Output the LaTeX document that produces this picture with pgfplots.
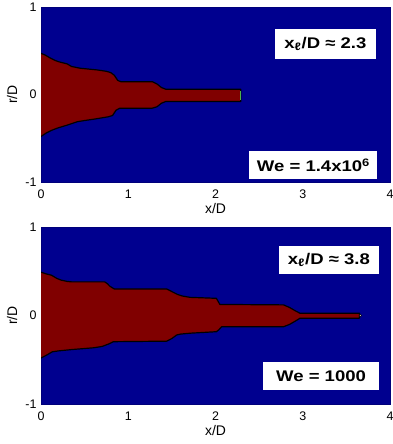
\documentclass[border=0pt]{standalone}
\usepackage{pgfplots}
\pgfplotsset{compat=1.18}
\usepackage{fontspec}
\setmainfont{Liberation Sans}
\definecolor{jetblue}{rgb}{0,0,0.5625}
\definecolor{jetred}{rgb}{0.5,0,0}
\pgfplotsset{
  jetaxis/.style={
    scale only axis, anchor=south west, width=349bp,
    xmin=0, xmax=4, ymin=-1, ymax=1,
    xtick={0,1,2,3,4}, xticklabels={0,1,2,3,4},
    ytick={-1,0,1}, yticklabels={-1,0,1},
    major tick length=0pt,
    axis background/.style={fill=jetblue},
    axis line style={draw=jetblue!85!black, line width=0.4pt},
    ticklabel style={font=\fontsize{12.5}{14}\selectfont},
    xticklabel style={anchor=center, yshift=-12bp},
    yticklabel style={anchor=east, xshift=-1bp},
    label style={font=\fontsize{14}{16}\selectfont},
    xlabel={x/D}, ylabel={r/D},
    xlabel style={at={(axis description cs:0.5,0)}, anchor=center, yshift=-27bp},
    ylabel style={at={(axis description cs:-0.083,0.5)}, anchor=center},
  },
  jet/.style={fill=jetred, draw=black, line width=1.2pt, line join=round},
}
\tikzset{
  jbox/.style={fill=white, draw=none, inner sep=0pt, font=\bfseries\fontsize{15.5}{18}\selectfont},
}
\newcommand{\wide}[1]{\scalebox{1.2}[1]{#1}}
\begin{document}
\begin{tikzpicture}
\useasboundingbox (0,0) rectangle (393bp,444bp);
% ---------- top panel ----------
\begin{axis}[jetaxis, at={(41bp,262bp)}, height=175bp]
\addplot[jet] coordinates {
(-0.05,0.47) (0,0.47) (0.05,0.45) (0.1,0.42) (0.16,0.39) (0.2,0.375) (0.3,0.35)
(0.35,0.32) (0.45,0.30) (0.55,0.29) (0.65,0.28) (0.75,0.265) (0.8,0.25) (0.84,0.22)
(0.88,0.16) (0.92,0.145) (1.28,0.145) (1.33,0.12) (1.38,0.08) (1.43,0.06) (2.29,0.06)
(2.29,-0.08) (1.43,-0.08) (1.38,-0.1) (1.33,-0.14) (1.27,-0.158) (0.9,-0.158)
(0.86,-0.18) (0.82,-0.24) (0.77,-0.255) (0.62,-0.28) (0.55,-0.29) (0.42,-0.31)
(0.3,-0.35) (0.2,-0.38) (0.12,-0.41) (0.06,-0.44) (0,-0.48) (-0.05,-0.48)
} -- cycle;
\addplot[draw=gray!60!green, line width=1pt] coordinates {(2.29,0.045) (2.29,-0.065)};
\node[jbox, minimum width=101bp, minimum height=30bp] at (axis cs:3.26,0.577)
  {\wide{x\textsubscript{ℓ}/D ≈ 2.3}};
\node[jbox, minimum width=128bp, minimum height=28bp] at (axis cs:3.123,-0.806)
  {\wide{We = 1.4x10\textsuperscript{6}}};
\end{axis}
% ---------- bottom panel ----------
\begin{axis}[jetaxis, at={(41bp,40bp)}, height=177bp]
\addplot[jet] coordinates {
(-0.05,0.49) (0,0.49) (0.06,0.47) (0.12,0.455) (0.18,0.42) (0.23,0.40) (0.3,0.385)
(0.35,0.38) (0.73,0.38) (0.76,0.36) (0.79,0.33) (0.84,0.30) (1.44,0.30) (1.5,0.27)
(1.56,0.24) (1.62,0.22) (1.71,0.205) (2.01,0.194) (2.03,0.16) (2.05,0.125) (2.78,0.12)
(2.85,0.09) (2.92,0.05) (2.97,0.025) (3.65,0.025) (3.65,-0.03)
(2.97,-0.03) (2.92,-0.06) (2.85,-0.1) (2.78,-0.127) (2.07,-0.127) (2.04,-0.16)
(2.01,-0.183) (1.71,-0.2) (1.6,-0.21) (1.555,-0.22) (1.5,-0.26) (1.44,-0.29)
(0.83,-0.296) (0.78,-0.32) (0.7,-0.35) (0.6,-0.365) (0.35,-0.385) (0.2,-0.40)
(0.13,-0.41) (0.06,-0.45) (0,-0.48) (-0.05,-0.48)
} -- cycle;
\addplot[only marks, mark=*, mark size=1.3pt, draw=none, fill=gray!50] coordinates {(3.66,0)};
\node[jbox, minimum width=100bp, minimum height=28bp] at (axis cs:3.30,0.627)
  {\wide{x\textsubscript{ℓ}/D ≈ 3.8}};
\node[jbox, minimum width=116bp, minimum height=28bp] at (axis cs:3.21,-0.684)
  {\wide{We = 1000}};
\end{axis}
\end{tikzpicture}
\end{document}
